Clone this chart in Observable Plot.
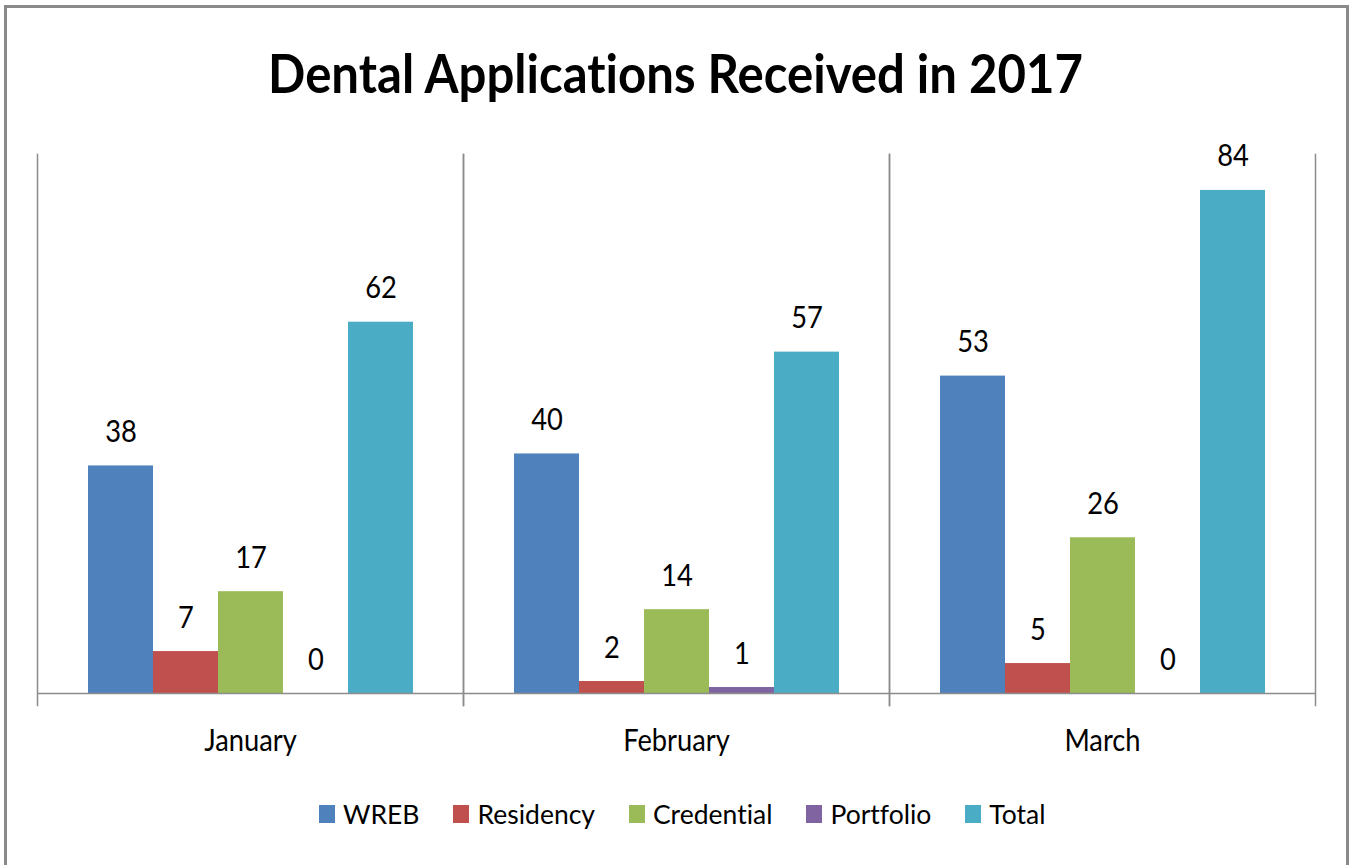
<!DOCTYPE html>
<html><head><meta charset="utf-8">
<script src="https://cdn.jsdelivr.net/npm/d3@7"></script>
<script src="https://cdn.jsdelivr.net/npm/@observablehq/plot@0.6"></script>
<style>
html,body{margin:0;padding:0;background:#fff;overflow:hidden;}
body{width:1351px;height:865px;position:relative;font-family:Lato,sans-serif;color:#000;font-variant-ligatures:none;}
#chart{position:absolute;left:0;top:0;}
#border{position:absolute;left:4px;top:5px;width:1345px;height:900px;border:3px solid #8a8a8a;box-sizing:border-box;pointer-events:none;}
#title{position:absolute;left:0;top:46px;width:1351px;text-align:center;font:bold 53px Lato,sans-serif;line-height:1;transform:scaleX(0.927);transform-origin:676px 0;white-space:nowrap;font-variant-ligatures:none;}
#legend{position:absolute;left:319px;top:801px;display:flex;align-items:center;font-size:26.5px;line-height:26px;white-space:nowrap;}
#legend .item{display:flex;align-items:center;margin-right:34px;}
#legend .sw{width:16px;height:18px;margin-right:8px;}
</style></head>
<body>
<div id="chart"></div>
<div id="title">Dental Applications Received in 2017</div>
<div id="legend"></div>
<div id="border"></div>
<script>
const months = ["January", "February", "March"];
const series = ["WREB", "Residency", "Credential", "Portfolio", "Total"];
const colors = ["#4F81BD", "#C0504D", "#9BBB59", "#8064A2", "#4BACC6"];
const wreb = [38, 40, 53];
const residency = [7, 2, 5];
const credential = [17, 14, 26];
const portfolio = [0, 1, 0];
const total = [62, 57, 84];

const values = [wreb, residency, credential, portfolio, total];
const data = months.flatMap((m, i) => series.map((s, j) => ({month: m, series: s, value: values[j][i]})));

const sx = 0.91;
const grid = "#8c8c8c";

const chart = Plot.plot({
  width: 1351,
  height: 865,
  marginLeft: 37,
  marginRight: 36,
  marginTop: 154,
  marginBottom: 172,
  style: {fontFamily: "Lato, sans-serif", fontSize: "30px", background: "transparent", overflow: "visible", color: "#000"},
  fx: {domain: months, padding: 0, axis: "bottom", label: null, tickSize: 0, tickPadding: 36},
  x: {domain: series, axis: null, paddingInner: 0, paddingOuter: 0.75},
  y: {domain: [0, 90], axis: null},
  color: {domain: series, range: colors},
  marks: [
    Plot.frame({anchor: "left", stroke: grid, strokeWidth: 1.5, insetBottom: -12}),
    Plot.frame({anchor: "right", stroke: grid, strokeWidth: 1.5, insetBottom: -12}),
    Plot.barY(data, {fx: "month", x: "series", y: "value", fill: "series"}),
    Plot.ruleY([0], {stroke: grid, strokeWidth: 1.5}),
    Plot.text(data, {fx: "month", x: "series", y: "value", text: d => String(d.value), dy: -24, lineAnchor: "bottom", fontSize: 30, fill: "#000"})
  ]
});
document.getElementById("chart").appendChild(chart);

// horizontally condense text to mimic the narrow original typeface
chart.querySelectorAll("text").forEach(t => {
  const x = +(t.getAttribute("x") || 0);
  const tr = t.getAttribute("transform") || "";
  t.setAttribute("transform", `${tr} translate(${x},0) scale(${sx},1) translate(${-x},0)`);
});

const legend = document.getElementById("legend");
series.forEach((s, i) => {
  const item = document.createElement("div");
  item.className = "item";
  const sw = document.createElement("div");
  sw.className = "sw";
  sw.style.background = colors[i];
  const label = document.createElement("span");
  label.textContent = s;
  item.appendChild(sw);
  item.appendChild(label);
  legend.appendChild(item);
});
</script>
</body></html>
